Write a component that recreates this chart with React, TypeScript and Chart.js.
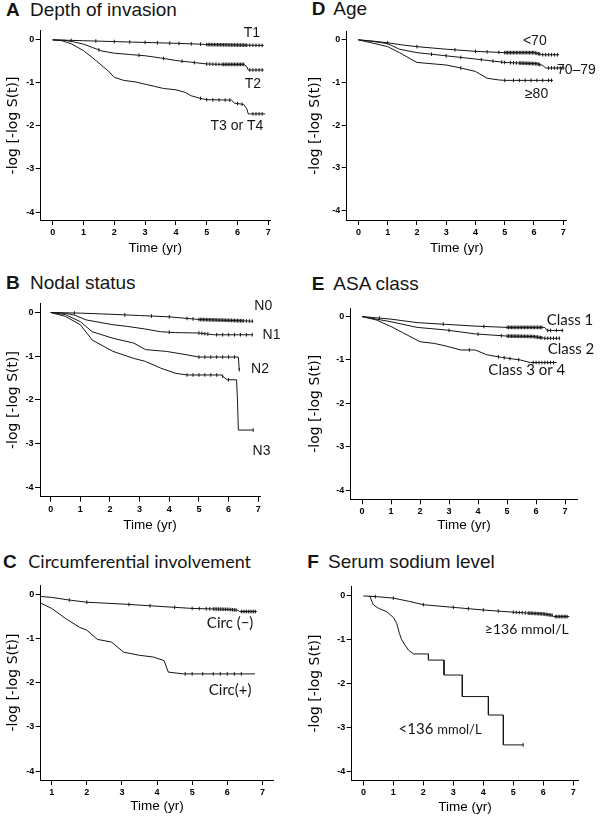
import React, { useEffect, useRef } from "react";
import { Chart, registerables } from "chart.js";
Chart.register(...registerables);

type Pt = [number, number];

// ---------------- DATA ----------------
const xTicks07 = [0, 1, 2, 3, 4, 5, 6, 7];
const xTicks17 = [1, 2, 3, 4, 5, 6, 7];
const yTicks = [0, -1, -2, -3, -4];

// A: Depth of invasion
const aT1: Pt[] = [[0, 0], [0.5, -0.01], [1, -0.02], [2, -0.04], [3, -0.06], [4, -0.08], [4.8, -0.1], [5, -0.11], [6, -0.12], [6.85, -0.13]];
const aT2: Pt[] = [[0, 0], [0.4, -0.01], [0.7, -0.05], [1, -0.1], [1.3, -0.18], [1.6, -0.26], [2, -0.31], [2.5, -0.34], [3, -0.37], [3.5, -0.42], [4, -0.48], [4.5, -0.52], [5, -0.56], [5.5, -0.57], [6.2, -0.57], [6.3, -0.62], [6.35, -0.7], [6.85, -0.7]];
const aT34: Pt[] = [[0, 0], [0.3, -0.02], [0.6, -0.09], [1, -0.25], [1.3, -0.42], [1.6, -0.6], [1.8, -0.72], [2, -0.87], [2.3, -0.94], [2.7, -0.98], [3, -1.03], [3.3, -1.08], [3.6, -1.13], [4, -1.16], [4.3, -1.22], [4.5, -1.3], [4.8, -1.36], [5, -1.39], [5.8, -1.4], [5.9, -1.47], [6.2, -1.5], [6.3, -1.6], [6.35, -1.72], [6.9, -1.72]];
const aT1Cens = [0.6, 1.4, 2.0, 2.5, 3.0, 3.4, 3.8, 4.1, 4.5, 4.8, 5.0, 5.05, 5.1, 5.15, 5.2, 5.25, 5.3, 5.35, 5.4, 5.45, 5.5, 5.55, 5.6, 5.65, 5.7, 5.75, 5.8, 5.85, 5.9, 5.95, 6.0, 6.05, 6.1, 6.15, 6.2, 6.25, 6.3, 6.4, 6.5, 6.6, 6.7, 6.8];
const aT2Cens = [1.5, 2.8, 3.6, 4.2, 4.6, 5.0, 5.1, 5.2, 5.3, 5.4, 5.5, 5.55, 5.6, 5.65, 5.7, 5.75, 5.8, 5.85, 5.9, 5.95, 6.0, 6.05, 6.1, 6.15, 6.2, 6.4, 6.5, 6.6, 6.7, 6.8];
const aT34Cens = [4.8, 5.0, 5.2, 5.4, 5.6, 5.75, 6.0, 6.15, 6.5, 6.6, 6.7, 6.8];

// D: Age
const dU70: Pt[] = [[0, 0], [0.5, -0.03], [1, -0.07], [1.5, -0.12], [2, -0.16], [3, -0.22], [4, -0.27], [5, -0.3], [6, -0.3], [6.3, -0.35], [6.86, -0.35]];
const d7079: Pt[] = [[0, 0], [0.5, -0.04], [1, -0.09], [1.4, -0.22], [2, -0.3], [3, -0.375], [4, -0.45], [5, -0.53], [6.1, -0.56], [6.3, -0.6], [6.4, -0.66], [7.05, -0.66]];
const dO80: Pt[] = [[0, 0], [0.5, -0.08], [1, -0.16], [1.4, -0.3], [2, -0.53], [3, -0.59], [3.5, -0.66], [4, -0.74], [4.4, -0.9], [4.8, -0.94], [5, -0.95], [6.65, -0.95]];
const dU70Cens = [1.0, 2.0, 3.3, 4.0, 4.4, 4.8, 5.0, 5.05, 5.1, 5.15, 5.2, 5.25, 5.3, 5.35, 5.4, 5.45, 5.5, 5.55, 5.6, 5.65, 5.7, 5.75, 5.8, 5.85, 5.9, 5.95, 6.0, 6.05, 6.1, 6.15, 6.2, 6.3, 6.4, 6.5, 6.6, 6.7, 6.8];
const d7079Cens = [2.5, 3.0, 3.5, 4.2, 4.6, 4.9, 5.0, 5.2, 5.3, 5.4, 5.5, 5.55, 5.6, 5.65, 5.7, 5.75, 5.8, 5.85, 5.9, 5.95, 6.0, 6.05, 6.1, 6.15, 6.2, 6.5, 6.6, 6.7, 6.8, 6.9, 7.0];
const dO80Cens = [3.5, 5.0, 5.3, 5.5, 5.7, 5.9, 6.1, 6.3, 6.5, 6.6];

// B: Nodal status
const bN0: Pt[] = [[0, 0], [1, -0.015], [2, -0.04], [3, -0.07], [4, -0.1], [5, -0.16], [6, -0.18], [6.83, -0.2]];
const bN1: Pt[] = [[0, 0], [0.5, -0.02], [0.8, -0.06], [1.2, -0.17], [1.6, -0.22], [2.1, -0.28], [2.6, -0.32], [3.2, -0.38], [3.7, -0.44], [4.2, -0.46], [5, -0.47], [5.5, -0.51], [6.8, -0.51]];
const bN2: Pt[] = [[0, 0], [0.5, -0.05], [1, -0.21], [1.4, -0.44], [2.1, -0.59], [2.8, -0.7], [3.2, -0.85], [3.9, -0.89], [4.6, -0.97], [5, -1.02], [6.33, -1.02], [6.36, -1.31]];
const bN3: Pt[] = [[0, 0], [0.5, -0.09], [1, -0.28], [1.4, -0.63], [2.1, -0.89], [2.8, -1.05], [3.2, -1.12], [3.7, -1.27], [4.2, -1.39], [4.6, -1.43], [5.75, -1.43], [5.95, -1.54], [6.27, -1.54], [6.3, -2.0], [6.33, -2.69], [6.83, -2.69]];
const bN0Cens = [0.8, 2.5, 3.4, 4.0, 4.6, 4.8, 5.0, 5.05, 5.1, 5.15, 5.2, 5.25, 5.3, 5.35, 5.4, 5.45, 5.5, 5.55, 5.6, 5.65, 5.7, 5.75, 5.8, 5.85, 5.9, 5.95, 6.0, 6.05, 6.1, 6.15, 6.2, 6.25, 6.3, 6.35, 6.4, 6.45, 6.5, 6.6, 6.7, 6.8];
const bN1Cens = [4.0, 5.0, 5.1, 5.2, 5.3, 5.6, 5.8, 6.0, 6.2, 6.4, 6.6, 6.8];
const bN2Cens = [5.0, 5.2, 5.4, 5.6, 5.8, 6.0, 6.2, 6.36];
const bN3Cens = [4.6, 4.8, 5.0, 5.2, 5.4, 5.6, 5.8, 6.0, 6.83];

// E: ASA class
const eC1: Pt[] = [[0, 0], [1, -0.06], [1.9, -0.14], [2.9, -0.18], [3.9, -0.22], [5, -0.25], [6.3, -0.25], [6.37, -0.32], [6.94, -0.32]];
const eC2: Pt[] = [[0, 0], [1, -0.12], [1.9, -0.25], [2.9, -0.31], [3.9, -0.4], [5, -0.45], [5.9, -0.46], [6.3, -0.5], [6.83, -0.5]];
const eC34: Pt[] = [[0, 0], [0.5, -0.08], [1, -0.23], [1.4, -0.37], [2, -0.58], [2.5, -0.62], [2.9, -0.68], [3.4, -0.77], [3.9, -0.77], [4.3, -0.88], [4.8, -0.94], [5.45, -1.0], [5.8, -1.06], [6.71, -1.06]];
const eC1Cens = [0.6, 2.8, 4.2, 5.0, 5.05, 5.1, 5.15, 5.2, 5.25, 5.3, 5.35, 5.4, 5.45, 5.5, 5.55, 5.6, 5.65, 5.7, 5.75, 5.8, 5.85, 5.9, 5.95, 6.0, 6.05, 6.1, 6.15, 6.2, 6.4, 6.5, 6.7, 6.9];
const eC2Cens = [3.0, 4.0, 4.8, 5.0, 5.05, 5.1, 5.15, 5.2, 5.25, 5.3, 5.35, 5.4, 5.45, 5.5, 5.55, 5.6, 5.65, 5.7, 5.75, 5.8, 5.85, 5.9, 5.95, 6.0, 6.05, 6.1, 6.15, 6.2, 6.3, 6.4, 6.5, 6.6, 6.7, 6.8];
const eC34Cens = [3.7, 4.7, 4.9, 5.1, 5.4, 5.9, 6.0, 6.1, 6.2, 6.3, 6.4, 6.5, 6.6];

// C: Circumferential involvement
const cNeg: Pt[] = [[0.69, -0.05], [1, -0.07], [1.5, -0.13], [2, -0.18], [3, -0.22], [4, -0.27], [5, -0.32], [6, -0.34], [6.3, -0.36], [6.35, -0.39], [6.84, -0.39]];
const cPos: Pt[] = [[0.69, -0.2], [1, -0.32], [1.4, -0.55], [1.8, -0.75], [2, -0.81], [2.3, -1.02], [2.7, -1.08], [3.05, -1.31], [3.5, -1.38], [3.9, -1.42], [4.2, -1.5], [4.32, -1.76], [4.75, -1.8], [6.79, -1.8]];
const cNegCens = [1.5, 2.0, 3.2, 3.8, 4.5, 5.0, 5.2, 5.4, 5.5, 5.6, 5.65, 5.7, 5.75, 5.8, 5.85, 5.9, 5.95, 6.0, 6.05, 6.1, 6.15, 6.2, 6.25, 6.4, 6.45, 6.5, 6.55, 6.6, 6.65, 6.7, 6.75, 6.8];
const cPosCens = [4.8, 5.0, 5.3, 5.6, 5.8, 6.0, 6.2, 6.4];

// F: Serum sodium level
const fHigh: Pt[] = [[0, 0], [0.5, -0.02], [1, -0.05], [1.5, -0.12], [2, -0.2], [3, -0.26], [4, -0.32], [5, -0.37], [6, -0.41], [6.3, -0.44], [6.35, -0.47], [6.87, -0.47]];
const fLow: Pt[] = [[0.2, 0], [0.22, -0.02], [0.33, -0.2], [0.5, -0.28], [0.78, -0.36], [1, -0.49], [1.11, -0.62], [1.2, -0.85], [1.28, -1.0], [1.39, -1.12], [1.5, -1.23], [1.67, -1.32], [2.17, -1.32], [2.17, -1.46], [2.69, -1.46], [2.69, -1.8], [3.3, -1.8], [3.3, -2.29], [4.17, -2.29], [4.17, -2.71], [4.67, -2.71], [4.67, -3.39], [5.33, -3.39]];
const fHighCens = [0.4, 1.0, 2.0, 3.0, 3.5, 4.0, 4.5, 5.0, 5.1, 5.2, 5.3, 5.4, 5.5, 5.55, 5.6, 5.65, 5.7, 5.75, 5.8, 5.85, 5.9, 5.95, 6.0, 6.05, 6.1, 6.15, 6.2, 6.25, 6.3, 6.4, 6.45, 6.5, 6.55, 6.6, 6.65, 6.7, 6.75, 6.8];
const fLowCens = [5.33];

// ---------------- STYLE / LAYOUT ----------------
const ARIAL = "'Liberation Sans', Arial, sans-serif";
const CALI = "Lato, 'Liberation Sans', sans-serif";
const INK = "#151515";

type Part = { text: string; font: string };
type Label = { parts: Part[]; t: number; y: number };
type Series = { pts: Pt[]; cens: number[] };
type Panel = {
  letter: string; title: string; titleFont: string; letterLeft: number; textLeft: number; titleTop: number;
  box: { left: number; top: number; w: number; h: number };
  area: { L: number; T: number; R: number; B: number };
  xMin: number; xMax: number; yMin: number; yMax: number;
  xTicks: number[]; series: Series[]; labels: Label[]; yTitleX: number; xTitleY: number;
};

const lab = (text: string, t: number, y: number, font: string): Label => ({ parts: [{ text, font }], t, y });

const panels: Panel[] = [
  {
    letter: "A", title: "Depth of invasion", titleFont: ARIAL, letterLeft: 6, textLeft: 30, titleTop: 0,
    box: { left: 0, top: 24, w: 300, h: 238 }, area: { L: 40.7, T: 30, R: 270, B: 220 },
    xMin: -0.39, xMax: 7.055, yMin: -4.185, yMax: 0.208, xTicks: xTicks07,
    series: [{ pts: aT1, cens: aT1Cens }, { pts: aT2, cens: aT2Cens }, { pts: aT34, cens: aT34Cens }],
    labels: [lab("T1", 6.47, 0.16, `14px ${ARIAL}`), lab("T2", 6.5, -1.02, `14px ${ARIAL}`), lab("T3 or T4", 5.98, -2.01, `14px ${ARIAL}`)],
    yTitleX: 13, xTitleY: 248.5,
  },
  {
    letter: "D", title: "Age", titleFont: ARIAL, letterLeft: 311.7, textLeft: 333.3, titleTop: -1,
    box: { left: 300, top: 24, w: 300, h: 238 }, area: { L: 346.7, T: 31.7, R: 566.7, B: 220 },
    xMin: -0.4, xMax: 7.12, yMin: -4.22, yMax: 0.19, xTicks: xTicks07,
    series: [{ pts: dU70, cens: dU70Cens }, { pts: d7079, cens: d7079Cens }, { pts: dO80, cens: dO80Cens }],
    labels: [lab("<70", 6.03, -0.02, `14px ${ARIAL}`), lab("70–79", 7.45, -0.7, `14px ${ARIAL}`), lab("≥80", 6.09, -1.27, `14px ${ARIAL}`)],
    yTitleX: 315, xTitleY: 248.5,
  },
  {
    letter: "B", title: "Nodal status", titleFont: ARIAL, letterLeft: 6, textLeft: 30, titleTop: 273,
    box: { left: 0, top: 292, w: 300, h: 245 }, area: { L: 40, T: 303.3, R: 260, B: 496.7 },
    xMin: -0.36, xMax: 7.06, yMin: -4.215, yMax: 0.21, xTicks: xTicks07,
    series: [{ pts: bN0, cens: bN0Cens }, { pts: bN1, cens: bN1Cens }, { pts: bN2, cens: bN2Cens }, { pts: bN3, cens: bN3Cens }],
    labels: [lab("N0", 7.17, 0.14, `14px ${ARIAL}`), lab("N1", 7.45, -0.51, `14px ${ARIAL}`), lab("N2", 7.06, -1.29, `14px ${ARIAL}`), lab("N3", 7.11, -3.18, `14px ${ARIAL}`)],
    yTitleX: 13.3, xTitleY: 525,
  },
  {
    letter: "E", title: "ASA class", titleFont: ARIAL, letterLeft: 311.7, textLeft: 333.3, titleTop: 274,
    box: { left: 300, top: 292, w: 300, h: 245 }, area: { L: 350.7, T: 308.3, R: 577.3, B: 499.3 },
    xMin: -0.39, xMax: 7.42, yMin: -4.21, yMax: 0.19, xTicks: xTicks07,
    series: [{ pts: eC1, cens: eC1Cens }, { pts: eC2, cens: eC2Cens }, { pts: eC34, cens: eC34Cens }],
    labels: [lab("Class 1", 7.17, -0.09, `15px ${CALI}`), lab("Class 2", 7.2, -0.75, `15px ${CALI}`), lab("Class 3 or 4", 5.68, -1.23, `15px ${CALI}`)],
    yTitleX: 315, xTitleY: 525,
  },
  {
    letter: "C", title: "Circumferential involvement", titleFont: CALI, letterLeft: 3, textLeft: 28.3, titleTop: 552,
    box: { left: 0, top: 572, w: 300, h: 245 }, area: { L: 40.7, T: 585, R: 273.3, B: 780 },
    xMin: 0.687, xMax: 7.31, yMin: -4.2, yMax: 0.21, xTicks: xTicks17,
    series: [{ pts: cNeg, cens: cNegCens }, { pts: cPos, cens: cPosCens }],
    labels: [lab("Circ (−)", 6.08, -0.65, `15px ${CALI}`), lab("Circ(+)", 6.08, -2.16, `15px ${CALI}`)],
    yTitleX: 13.3, xTitleY: 806.5,
  },
  {
    letter: "F", title: "Serum sodium level", titleFont: ARIAL, letterLeft: 307.3, textLeft: 328, titleTop: 552,
    box: { left: 300, top: 572, w: 300, h: 245 }, area: { L: 351.7, T: 586.7, R: 578.3, B: 780.5 },
    xMin: -0.39, xMax: 7.17, yMin: -4.2, yMax: 0.21, xTicks: xTicks07,
    series: [{ pts: fHigh, cens: fHighCens }, { pts: fLow, cens: fLowCens }],
    labels: [
      lab("≥136 mmol/L", 5.45, -0.76, `14px ${CALI}`),
      { parts: [{ text: "<136 ", font: `15px ${CALI}` }, { text: "mmol/L", font: `13px ${CALI}` }], t: 2.56, y: -3.04 },
    ],
    yTitleX: 315, xTitleY: 807.5,
  },
];

// value of a curve at time t (linear between read points, last value after end)
function valueAt(pts: Pt[], t: number): number {
  let v = pts[0][1];
  for (let i = 0; i < pts.length; i++) {
    const [x, y] = pts[i];
    if (x <= t) v = y;
    else {
      const [x0, y0] = pts[i - 1] || pts[i];
      if (x !== x0) v = y0 + ((y - y0) * (t - x0)) / (x - x0);
      break;
    }
  }
  return v;
}

const labelPlugin = {
  id: "curveLabels",
  afterDraw(chart: any, _args: any, opts: any) {
    const { ctx } = chart;
    const xs = chart.scales.x;
    const ys = chart.scales.y;
    ctx.save();
    ctx.fillStyle = INK;
    ctx.textBaseline = "middle";
    ctx.textAlign = "left";
    for (const l of (opts.items || []) as Label[]) {
      let total = 0;
      const widths = l.parts.map((p) => {
        ctx.font = p.font;
        const w = ctx.measureText(p.text).width;
        total += w;
        return w;
      });
      let x = xs.getPixelForValue(l.t) - total / 2;
      const y = ys.getPixelForValue(l.y);
      l.parts.forEach((p, i) => {
        ctx.font = p.font;
        ctx.fillText(p.text, x, y);
        x += widths[i];
      });
    }
    ctx.restore();
  },
};

function PanelChart({ p }: { p: Panel }) {
  const ref = useRef<HTMLCanvasElement | null>(null);
  useEffect(() => {
    if (!ref.current) return;
    const { box, area } = p;
    const padTop = area.T - box.top;
    const padRight = box.left + box.w - area.R;
    const yW = area.L - box.left;
    const xH = box.top + box.h - area.B;
    const xTitleSize = 13.5;
    const yTitleSize = 14;
    const xTitlePadB = Math.max(0, box.top + box.h - p.xTitleY - (xTitleSize * 1.2) / 2);
    const yTitlePadT = p.yTitleX - box.left - (yTitleSize * 1.2) / 2;

    const datasets: any[] = [];
    p.series.forEach((s) => {
      datasets.push({
        data: s.pts.map(([x, y]) => ({ x, y })),
        showLine: true,
        borderColor: INK,
        backgroundColor: INK,
        borderWidth: 1,
        pointRadius: 0,
        tension: 0,
        fill: false,
      });
      datasets.push({
        data: s.cens.map((t) => ({ x: t, y: valueAt(s.pts, t) })),
        showLine: false,
        pointStyle: "line",
        rotation: 90,
        pointRadius: 1.8,
        borderColor: INK,
        borderWidth: 1,
      });
    });

    const tickFont = { family: ARIAL, size: 9, weight: "bold" as const };
    const axisCommon = {
      type: "linear" as const,
      grid: { display: true, drawOnChartArea: false, drawTicks: true, tickLength: 5, color: "#000", lineWidth: 1 },
      border: { display: true, color: "#000", width: 1 },
    };

    const chart = new Chart(ref.current, {
      type: "scatter",
      data: { datasets },
      options: {
        animation: false,
        responsive: false,
        maintainAspectRatio: false,
        events: [],
        layout: { padding: { left: 0, top: padTop, right: padRight, bottom: 0 } },
        plugins: {
          legend: { display: false },
          tooltip: { enabled: false },
          // @ts-ignore
          curveLabels: { items: p.labels },
        },
        scales: {
          x: {
            ...axisCommon,
            min: p.xMin,
            max: p.xMax,
            afterBuildTicks: (s: any) => {
              s.ticks = p.xTicks.map((v) => ({ value: v }));
            },
            afterFit: (s: any) => {
              s.height = xH;
            },
            ticks: { font: tickFont, color: "#000", padding: 2, maxRotation: 0, autoSkip: false, callback: (v: any) => String(v) },
            title: { display: true, text: "Time (yr)", color: "#000", font: { family: ARIAL, size: xTitleSize }, padding: { top: 0, bottom: xTitlePadB } },
          },
          y: {
            ...axisCommon,
            min: p.yMin,
            max: p.yMax,
            afterBuildTicks: (s: any) => {
              s.ticks = yTicks.map((v) => ({ value: v }));
            },
            afterFit: (s: any) => {
              s.width = yW;
            },
            ticks: { font: tickFont, color: "#000", padding: 1.5, autoSkip: false, callback: (v: any) => String(v) },
            title: { display: true, text: "-log [-log S(t)]", color: "#000", font: { family: "'DejaVu Sans', sans-serif", size: yTitleSize }, padding: { top: yTitlePadT, bottom: 0 } },
          },
        },
      },
      plugins: [labelPlugin],
    } as any);
    return () => chart.destroy();
  }, [p]);

  return (
    <>
      <div style={{ position: "absolute", left: p.letterLeft, top: p.titleTop, fontFamily: ARIAL, fontWeight: "bold", fontSize: 19, lineHeight: "19px", color: INK, whiteSpace: "nowrap" }}>
        {p.letter}
      </div>
      <div style={{ position: "absolute", left: p.textLeft, top: p.titleTop, fontFamily: p.titleFont, fontSize: p.titleFont === CALI ? 18 : 19, lineHeight: "19px", color: INK, whiteSpace: "nowrap" }}>
        {p.title}
      </div>
      <canvas
        ref={ref}
        width={p.box.w}
        height={p.box.h}
        style={{ position: "absolute", left: p.box.left, top: p.box.top, width: p.box.w, height: p.box.h, display: "block" }}
      />
    </>
  );
}

export default function App() {
  return (
    <div style={{ position: "absolute", left: 0, top: 0, width: 600, height: 817, background: "#fff", overflow: "hidden" }}>
      {panels.map((p) => (
        <PanelChart key={p.letter} p={p} />
      ))}
    </div>
  );
}
